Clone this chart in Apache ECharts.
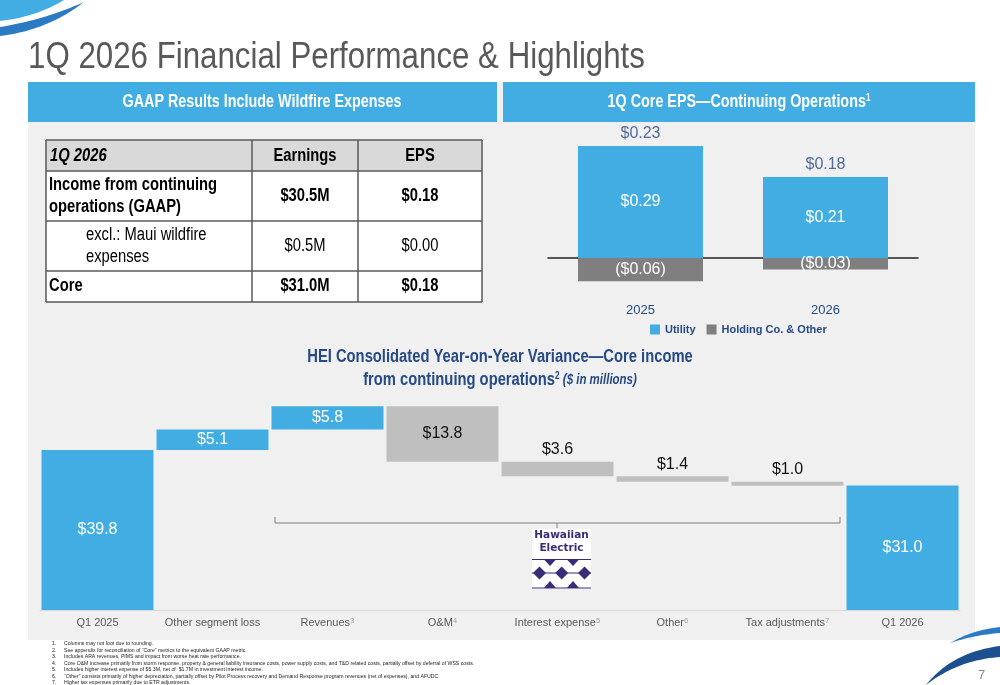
<!DOCTYPE html>
<html>
<head>
<meta charset="utf-8">
<script src="https://cdn.jsdelivr.net/npm/echarts@6/dist/echarts.min.js"></script>
<style>
html, body { margin: 0; padding: 0; background: #fff; }
#c { width: 1000px; height: 685px; }
</style>
</head>
<body>
<div id="c"></div>
<script>
// core EPS by year
var epsYears = ['2025', '2026'];
var epsUtility = [0.29, 0.21];
var epsHolding = [-0.06, -0.03];
var epsTotal = [0.23, 0.18];

// year-on-year variance, $ in millions
var wfCats = ['Q1 2025', 'Other segment loss', 'Revenues', 'O&M', 'Interest expense', 'Other', 'Tax adjustments', 'Q1 2026'];
var wfNotes = ['', '', '3', '4', '5', '6', '7', ''];
var wfStart = 39.8;
var wfChanges = [5.1, 5.8, -13.8, -3.6, -1.4, -1.0];
var wfEnd = 31.0;

// GAAP table
var tblHead = ['1Q 2026', 'Earnings', 'EPS'];
var tblLabels = ['Income from continuing\noperations (GAAP)', 'excl.: Maui wildfire\nexpenses', 'Core'];
var tblEarnings = ['$30.5M', '$0.5M', '$31.0M'];
var tblEps = ['$0.18', '$0.00', '$0.18'];

var footnotes = [
  'Columns may not foot due to rounding.',
  'See appendix for reconciliation of \u201cCore\u201d metrics to the equivalent GAAP metric.',
  'Includes ARA revenues, PIMS and impact from worse heat rate performance.',
  'Core O&M increase primarily from storm response, property & general liability insurance costs, power supply costs, and T&D related costs, partially offset by deferral of WSS costs.',
  'Includes higher interest expense of $5.3M, net of  $1.7M in investment interest income.',
  '\u201cOther\u201d consists primarily of higher depreciation, partially offset by Pilot Process recovery and Demand Response program revenues (net of expenses), and AFUDC.',
  'Higher tax expenses primarily due to ETR adjustments.'
];

var FONT = "'Liberation Sans', Arial, sans-serif";
var BLUE = '#41ADE2';
var NAVY = '#264A85';

// waterfall helper stacks
var wfBase = [0], wfUp = [wfStart], wfDown = ['-'];
var run = wfStart;
wfChanges.forEach(function (d) {
  if (d >= 0) {
    wfBase.push(run); wfUp.push(d); wfDown.push('-');
    run += d;
  } else {
    run += d;
    wfBase.push(run); wfUp.push('-'); wfDown.push(-d);
  }
});
wfBase.push(0); wfUp.push(wfEnd); wfDown.push('-');

var downData = wfDown.map(function (v) {
  if (v === '-') return v;
  return { value: v, label: { position: v >= 5 ? 'inside' : 'top', distance: 4 } };
});

function money(v, d) {
  return v < 0 ? '($' + Math.abs(v).toFixed(d) + ')' : '$' + v.toFixed(d);
}

// drawing helpers for the slide furniture
function rect(x, y, w, h, fill) {
  return { type: 'rect', shape: { x: x, y: y, width: w, height: h }, style: { fill: fill }, silent: true };
}
function line(x1, y1, x2, y2, color, w) {
  return { type: 'line', shape: { x1: x1, y1: y1, x2: x2, y2: y2 },
    style: { stroke: color, lineWidth: w || 1 }, silent: true };
}
// the slide uses a condensed face, so squeeze text horizontally
function txt(x, y, s, o) {
  o = o || {};
  return { type: 'text', x: x, y: y, scaleX: o.sx || 0.82, silent: true, z: 5,
    style: { text: s, fill: o.color || '#000', fontSize: o.size || 18, fontFamily: o.family || FONT,
      fontWeight: o.weight || 'normal', fontStyle: o.style || 'normal',
      align: o.align || 'left', textAlign: o.align || 'left',
      verticalAlign: 'middle', textVerticalAlign: 'middle',
      lineHeight: o.lh || null, rich: o.rich || null } };
}
function quad(p0, c, p1, n) {
  var pts = [];
  for (var i = 0; i <= n; i++) {
    var t = i / n, u = 1 - t;
    pts.push([u * u * p0[0] + 2 * u * t * c[0] + t * t * p1[0], u * u * p0[1] + 2 * u * t * c[1] + t * t * p1[1]]);
  }
  return pts;
}
function poly(pts, fill) {
  return { type: 'polygon', shape: { points: pts }, style: { fill: fill }, silent: true };
}

var g = [];
// background panel and headers
g.push(rect(28, 82, 947, 558, '#F0F0F0'));
g.push(rect(28, 82, 469, 40, BLUE));
g.push(rect(503, 82, 472, 40, BLUE));
g.push(txt(28, 58, '1Q 2026 Financial Performance & Highlights', { size: 37, color: '#595959', sx: 0.845 }));
g.push(txt(262, 102, 'GAAP Results Include Wildfire Expenses', { size: 17.5, color: '#fff', weight: 'bold', align: 'center' }));
g.push(txt(739, 102, '{a|1Q Core EPS\u2014Continuing Operations}{s|1}', { align: 'center', color: '#fff',
  rich: { a: { fontSize: 17.5, fontWeight: 'bold', color: '#fff', fill: '#fff', fontFamily: FONT },
          s: { fontSize: 10, fontWeight: 'bold', color: '#fff', fill: '#fff', fontFamily: FONT, verticalAlign: 'top' } } }));

// table
var tx = [46, 252, 358, 482], ty = [140, 171, 221, 271, 302];
g.push(rect(46, 140, 436, 31, '#D9D9D9'));
g.push(rect(46, 171, 436, 131, '#FFFFFF'));
ty.forEach(function (y) { g.push(line(46, y, 482, y, '#595959', 1.5)); });
tx.forEach(function (x) { g.push(line(x, 140, x, 302, '#595959', 1.5)); });
g.push(txt(50, 156, tblHead[0], { weight: 'bold', style: 'italic' }));
g.push(txt(305, 156, tblHead[1], { weight: 'bold', align: 'center' }));
g.push(txt(420, 156, tblHead[2], { weight: 'bold', align: 'center' }));
tblLabels.forEach(function (s, i) {
  var cy = (ty[i + 1] + ty[i + 2]) / 2;
  var bold = i !== 1;
  g.push(txt(i === 1 ? 86 : 49, cy, s, { weight: bold ? 'bold' : 'normal', lh: 22 }));
  g.push(txt(305, cy, tblEarnings[i], { weight: bold ? 'bold' : 'normal', align: 'center' }));
  g.push(txt(420, cy, tblEps[i], { weight: bold ? 'bold' : 'normal', align: 'center' }));
});

// waterfall title
g.push(txt(500, 357, 'HEI Consolidated Year-on-Year Variance\u2014Core income', { size: 18, weight: 'bold', color: NAVY, align: 'center' }));
g.push(txt(500, 380, '{a|from continuing operations}{s|2}{i| ($ in millions)}', { align: 'center', color: NAVY,
  rich: { a: { fontSize: 18, fontWeight: 'bold', color: NAVY, fill: NAVY, fontFamily: FONT },
          s: { fontSize: 10, fontWeight: 'bold', color: NAVY, fill: NAVY, fontFamily: FONT, verticalAlign: 'top' },
          i: { fontSize: 14, fontWeight: 'bold', fontStyle: 'italic', color: NAVY, fill: NAVY, fontFamily: FONT } } }));

// utility bracket
g.push(line(275, 517, 275, 523, '#7F7F7F', 1));
g.push(line(275, 523, 840, 523, '#7F7F7F', 1));
g.push(line(840, 517, 840, 523, '#7F7F7F', 1));
g.push(line(557, 523, 557, 528, '#7F7F7F', 1));

// Hawaiian Electric mark
var LC = '#3A2C78';
g.push(rect(532, 529, 59, 60, '#FFFFFF'));
g.push(txt(561.5, 535.5, 'Hawaiian', { size: 10.5, weight: 'bold', color: LC, align: 'center', family: "'DejaVu Sans', sans-serif", sx: 1 }));
g.push(txt(561.5, 548, 'Electric', { size: 10.5, weight: 'bold', color: LC, align: 'center', family: "'DejaVu Sans', sans-serif", sx: 1 }));
g.push(line(532, 559.5, 591, 559.5, LC, 1.2));
g.push(line(532, 573, 591, 573, LC, 1.2));
g.push(line(532, 588, 591, 588, LC, 1.2));
[550, 573].forEach(function (cx) {
  g.push(poly([[cx - 6, 559.5], [cx + 6, 559.5], [cx, 566]], LC));
  g.push(poly([[cx - 6, 588], [cx + 6, 588], [cx, 581]], LC));
});
[539.5, 561.7, 584.5].forEach(function (cx) {
  g.push(poly([[cx - 6.5, 573], [cx, 566.5], [cx + 6.5, 573], [cx, 579.5]], LC));
});

// footnotes and page number
footnotes.forEach(function (s, i) {
  var y = 643.5 + i * 6.5;
  g.push(txt(52, y, (i + 1) + '.', { size: 5.5, color: '#222', sx: 0.94 }));
  g.push(txt(64, y, s, { size: 5.5, color: '#222', sx: 0.94 }));
});
g.push(txt(978, 675, '7', { size: 13, color: '#8C8C8C', sx: 1 }));

// swooshes
g.push(poly([[0, 0], [64, 0]].concat(quad([64, 0], [36, 17], [0, 21], 20)), BLUE));
g.push(poly(quad([0, 27], [44, 20], [84, 2], 24).concat(quad([84, 2], [48, 30], [0, 36], 24)), '#2A7BC4'));
g.push(poly(quad([926, 685], [952, 652], [1000, 646], 24).concat([[1000, 657]]).concat(quad([1000, 657], [958, 660], [926, 685], 24)), '#1B4F8F'));
g.push(poly(quad([950, 643], [972, 630], [1000, 627], 16).concat([[1000, 633]]).concat(quad([1000, 633], [974, 635], [950, 643], 16)), '#2A7BC4'));

var chart = echarts.init(document.getElementById('c'), null, { renderer: 'canvas' });
chart.setOption({
  animation: false,
  backgroundColor: '#FFFFFF',
  textStyle: { fontFamily: FONT },
  graphic: { elements: g },
  legend: {
    data: ['Utility', 'Holding Co. & Other'],
    left: 645, top: 319,
    icon: 'rect', itemWidth: 10, itemHeight: 10, itemGap: 11,
    textStyle: { color: NAVY, fontWeight: 'bold', fontSize: 11, fontFamily: FONT }
  },
  grid: [
    { left: 548, top: 142.2, width: 370, height: 154.4 },
    { left: 40, top: 388.9, width: 920, height: 221.1 }
  ],
  xAxis: [
    { gridIndex: 0, type: 'category', data: epsYears,
      axisLine: { lineStyle: { color: '#222', width: 1.5 } }, axisTick: { show: false },
      axisLabel: { margin: 7, color: NAVY, fontSize: 13, fontFamily: FONT } },
    { gridIndex: 1, type: 'category', data: wfCats,
      axisLine: { lineStyle: { color: '#D9D9D9', width: 1 } }, axisTick: { show: false },
      axisLabel: { margin: 7, color: '#595959', fontSize: 11, fontFamily: FONT, interval: 0,
        formatter: function (v, i) { return wfNotes[i] ? v + '{s|' + wfNotes[i] + '}' : v; },
        rich: { s: { fontSize: 8, color: '#A6A6A6', verticalAlign: 'top', fontFamily: FONT } } } }
  ],
  yAxis: [
    { gridIndex: 0, type: 'value', min: -0.1, max: 0.3, show: false, splitLine: { show: false } },
    { gridIndex: 1, type: 'value', min: 0, max: 55, show: false, splitLine: { show: false } }
  ],
  series: [
    { name: 'Utility', type: 'bar', stack: 'eps', xAxisIndex: 0, yAxisIndex: 0, barWidth: 125,
      data: epsUtility, itemStyle: { color: BLUE },
      label: { show: true, position: 'inside', color: '#fff', fontSize: 16, fontFamily: FONT,
        formatter: function (p) { return money(p.value, 2); } } },
    { name: 'Holding Co. & Other', type: 'bar', stack: 'eps', xAxisIndex: 0, yAxisIndex: 0, barWidth: 125,
      data: epsHolding, itemStyle: { color: '#7F7F7F' },
      label: { show: true, position: 'inside', color: '#fff', fontSize: 16, fontFamily: FONT,
        formatter: function (p) { return money(p.value, 2); } } },
    { name: 'total', type: 'scatter', xAxisIndex: 0, yAxisIndex: 0, data: epsUtility,
      symbolSize: 1, itemStyle: { color: 'rgba(0,0,0,0)' }, z: 5,
      label: { show: true, position: 'top', distance: 4, color: NAVY, fontSize: 16, fontFamily: FONT,
        formatter: function (p) { return money(epsTotal[p.dataIndex], 2); } } },
    { name: 'base', type: 'bar', stack: 'wf', xAxisIndex: 1, yAxisIndex: 1, barWidth: 112,
      data: wfBase, itemStyle: { color: 'rgba(0,0,0,0)' }, emphasis: { disabled: true } },
    { name: 'up', type: 'bar', stack: 'wf', xAxisIndex: 1, yAxisIndex: 1, barWidth: 112,
      data: wfUp, itemStyle: { color: BLUE },
      label: { show: true, position: 'inside', color: '#fff', fontSize: 16, fontFamily: FONT,
        formatter: function (p) { return money(p.value, 1); } } },
    { name: 'down', type: 'bar', stack: 'wf', xAxisIndex: 1, yAxisIndex: 1, barWidth: 112,
      data: downData, itemStyle: { color: '#BFBFBF' },
      label: { show: true, color: '#111', fontSize: 16, fontFamily: FONT,
        formatter: function (p) { return money(p.value, 1); } } }
  ]
});
</script>
</body>
</html>
